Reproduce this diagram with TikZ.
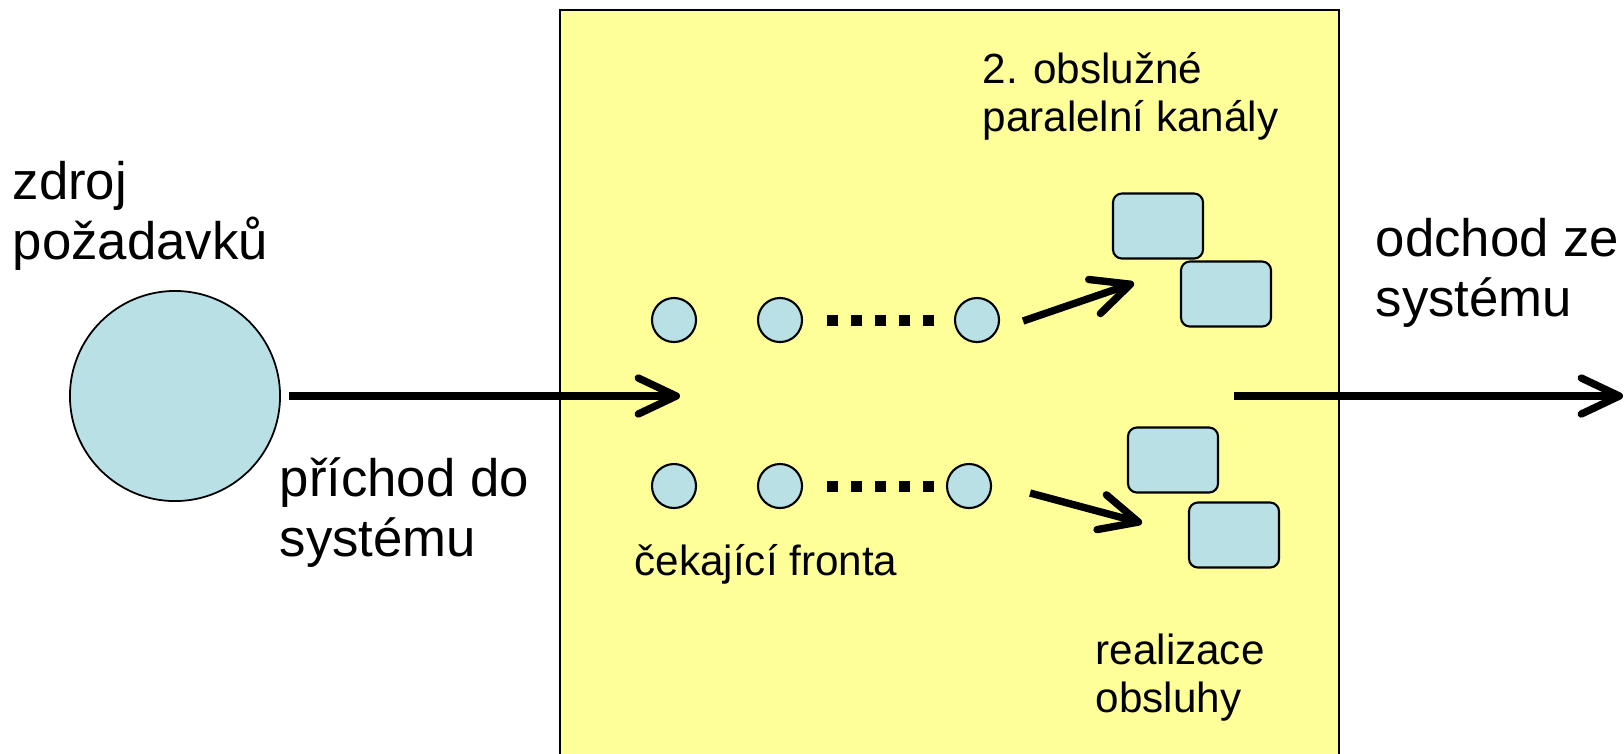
\documentclass[tikz,border=0pt]{standalone}
\usepackage{fontspec}
\setmainfont{Liberation Sans}
\usetikzlibrary{arrows.meta}
\definecolor{sysyellow}{RGB}{255,255,153}
\definecolor{reqblue}{RGB}{185,224,228}

\begin{document}
\begin{tikzpicture}[x=0.01cm,y=-0.01cm,>={Straight Barb[length=3.8mm,width=3.6mm,round]},
  flow/.style={->,line width=2.1pt},
  req/.style={circle,draw,line width=0.6pt,fill=reqblue,inner sep=0pt,minimum size=4.4mm},
  chan/.style={draw,line width=0.6pt,fill=reqblue,rounded corners=0.9mm,inner sep=0pt,minimum width=9mm,minimum height=6.5mm},
  dots/.style={line width=1.1mm,dash pattern=on 1.1mm off 1.3mm},
  big/.style={inner sep=0pt,anchor=base west,align=left,font=\fontsize{15}{17}\selectfont},
  small/.style={inner sep=0pt,anchor=base west,align=left,font=\fontsize{12}{13.5}\selectfont}]
\useasboundingbox(0,0)rectangle(1624,753);
% system box
\draw[line width=0.45pt,fill=sysyellow](560,10)rectangle(1339,760);
% source of requests
\node[circle,draw,line width=0.5pt,fill=reqblue,minimum size=2.1cm](src)at(175,396){};
% two queues
\node[req](q11)at(674,320){};
\node[req](q12)at(780,320){};
\node[req](q13)at(977,320){};
\node[req](q21)at(674,486){};
\node[req](q22)at(780,486){};
\node[req](q23)at(969,486){};
\draw[dots]([xshift=2.4mm]q12.east)--++(108,0);
\draw[dots]([xshift=2.4mm]q22.east)--++(108,0);
% service channels
\node[chan](s11)at(1158,226){};
\node[chan](s12)at(1226,294){};
\node[chan](s21)at(1173,460){};
\node[chan](s22)at(1234,535){};
% arrows
\coordinate(enter)at(680,396);
\coordinate(leave)at(1234,396);
\coordinate(exit)at(1623,396);
\coordinate(to1)at(1134,283);
\coordinate(to2)at(1142,523);
\draw[flow]([xshift=0.8mm]src.east)--(enter);
\draw[flow](leave)--(exit);
\draw[flow]([shift={(23,1)}]q13.east)--(to1);
\draw[flow]([shift={(38,7)}]q23.east)--(to2);
% labels (base = last line)
\node[big](srclbl)at(12,259){zdroj\\požadavků};
\node[big](inlbl)at(279,556){příchod do\\systému};
\node[big](outlbl)at(1375,316){odchod ze\\systému};
\node[small](chlbl)at(982,131){2. obslužné\\paralelní kanály};
\node[small](qlbl)at(634,575){čekající fronta};
\node[small](svlbl)at(1095,712){realizace\\obsluhy};
\end{tikzpicture}
\end{document}
